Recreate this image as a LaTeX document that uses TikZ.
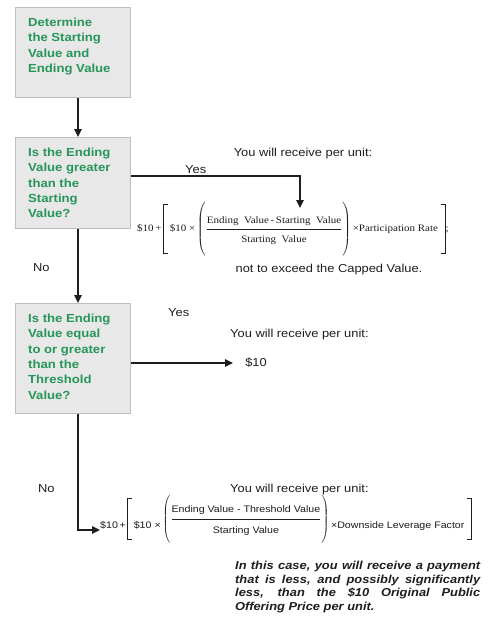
\documentclass[tikz,border=0pt]{standalone}
\usepackage{amsmath}
\usepackage{fontspec}
\setmainfont[FakeStretch=1.12]{Liberation Sans}
\newfontfamily\serifx[FakeStretch=1.12]{Liberation Serif}
\usetikzlibrary{arrows.meta}
\definecolor{boxgreen}{RGB}{38,150,88}
\definecolor{boxfill}{RGB}{232,232,232}
\definecolor{boxline}{RGB}{190,190,190}
\definecolor{ink}{RGB}{30,30,30}
\newcommand\Lbr[1]{\vcenter{\hbox{\vrule width 1pt height #1\kern-1pt\vbox to #1{\hrule width 5pt height 1pt\vfill\hrule width 5pt height 1pt}}}}
\newcommand\Rbr[1]{\vcenter{\hbox{\vbox to #1{\hrule width 5pt height 1pt\vfill\hrule width 5pt height 1pt}\kern-1pt\vrule width 1pt height #1}}}
\tikzset{
  box/.style={draw=boxline, fill=boxfill, line width=1pt, anchor=north west, inner sep=0pt},
  boxtext/.style={anchor=base west, inner sep=0pt, align=left, text=boxgreen,
    font=\fontsize{11.7}{15.3}\selectfont\bfseries},
  lbl/.style={anchor=base west, inner sep=0pt, text=ink, font=\fontsize{11.5}{13}\selectfont},
  conn/.style={draw=ink, line width=1.3pt},
  arr/.style={conn, -{Triangle[length=8pt,width=7.5pt]}},
}
\begin{document}
\begin{tikzpicture}[x=1pt,y=-1pt]
\useasboundingbox (0,0) rectangle (488,622);
\fill[white] (0,0) rectangle (488,622);
% boxes
\node[box, minimum width=115pt, minimum height=90pt] (b1) at (15,7) {};
\node[box, minimum width=115pt, minimum height=91pt] (b2) at (15,137) {};
\node[box, minimum width=115pt, minimum height=110pt] (b3) at (15,303) {};
\node[boxtext, anchor=north west] (t1) at (28,18) {Determine\\the Starting\\Value and\\Ending Value};
\node[boxtext, anchor=north west] (t2) at (28,148) {Is the Ending\\Value greater\\than the\\Starting\\Value?};
\node[boxtext, anchor=north west] (t3) at (28,314) {Is the Ending\\Value equal\\to or greater\\than the\\Threshold\\Value?};
\coordinate (lx) at (78,0);
% formula 1
\node[anchor=west, inner sep=0pt, text=ink, font=\fontsize{9.8}{11}\serifx] (f1) at (137,230)
 {$\text{\$10\,+}\,\Lbr{50pt}\,\text{\$10 ×}\left(\vrule height 27pt depth 27pt width 0pt
  \dfrac{\text{Ending\ \ Value\,-\,Starting\ \ Value}\rule[-4pt]{0pt}{4pt}}{\rule{0pt}{12pt}\text{Starting\ \ Value}}\right)\text{×Participation Rate}\;\Rbr{50pt}\text{;}$};
% formula 2
\node[anchor=west, inner sep=0pt, text=ink, font=\fontsize{9.5}{11}\selectfont] (f2) at (100,519)
 {$\raisebox{-7pt}{\text{\$10\,+}}\,\Lbr{42pt}\,\raisebox{-7pt}{\text{\$10 ×}}\left(\vrule height 22pt depth 22pt width 0pt
  \dfrac{\text{Ending Value - Threshold Value}\rule[-5pt]{0pt}{5pt}}{\rule{0pt}{13pt}\text{Starting Value}}\right)\raisebox{-7pt}{\text{×Downside Leverage Factor}}\;\Rbr{42pt}$};
\node[inner sep=0pt] (ten) at (256,363) {\color{ink}\fontsize{11.5}{13}\selectfont\$10};
\coordinate (c1) at (300,208);
% labels
\node[lbl] (y1) at (185,173) {Yes};
\node[lbl] (y2) at (168,316) {Yes};
\node[lbl] (n1) at (33,271) {No};
\node[lbl] (n2) at (38,492) {No};
\node[lbl, anchor=base] (r1) at (303,156) {You will receive per unit:};
\node[lbl] (r2) at (230,337) {You will receive per unit:};
\node[lbl] (r3) at (230,492) {You will receive per unit:};
\node[lbl, anchor=base] (cap) at (329,272) {not to exceed the Capped Value.};
\node[anchor=north west, inner sep=0pt, text width=245pt, align=justify, text=ink,
  font=\fontsize{11.5}{13.5}\selectfont\bfseries\itshape] (note) at (235,561)
  {\emergencystretch=30pt In this case, you will receive a payment that is less, and possibly \mbox{significantly} less, than the \$10 Original Public \mbox{Offering} Price per unit.};
% connectors
\draw[arr] (b1.south -| lx) -- (b2.north -| lx);
\draw[arr] (b2.south -| lx) -- (b3.north -| lx);
\draw[arr] (b2.east |- 0,176) -| (c1);
\draw[arr] (b3.east |- ten) -- ([xshift=-12pt]ten.west);
\draw[arr] (b3.south -| lx) |- (f2.west |- 0,530);
\end{tikzpicture}
\end{document}
